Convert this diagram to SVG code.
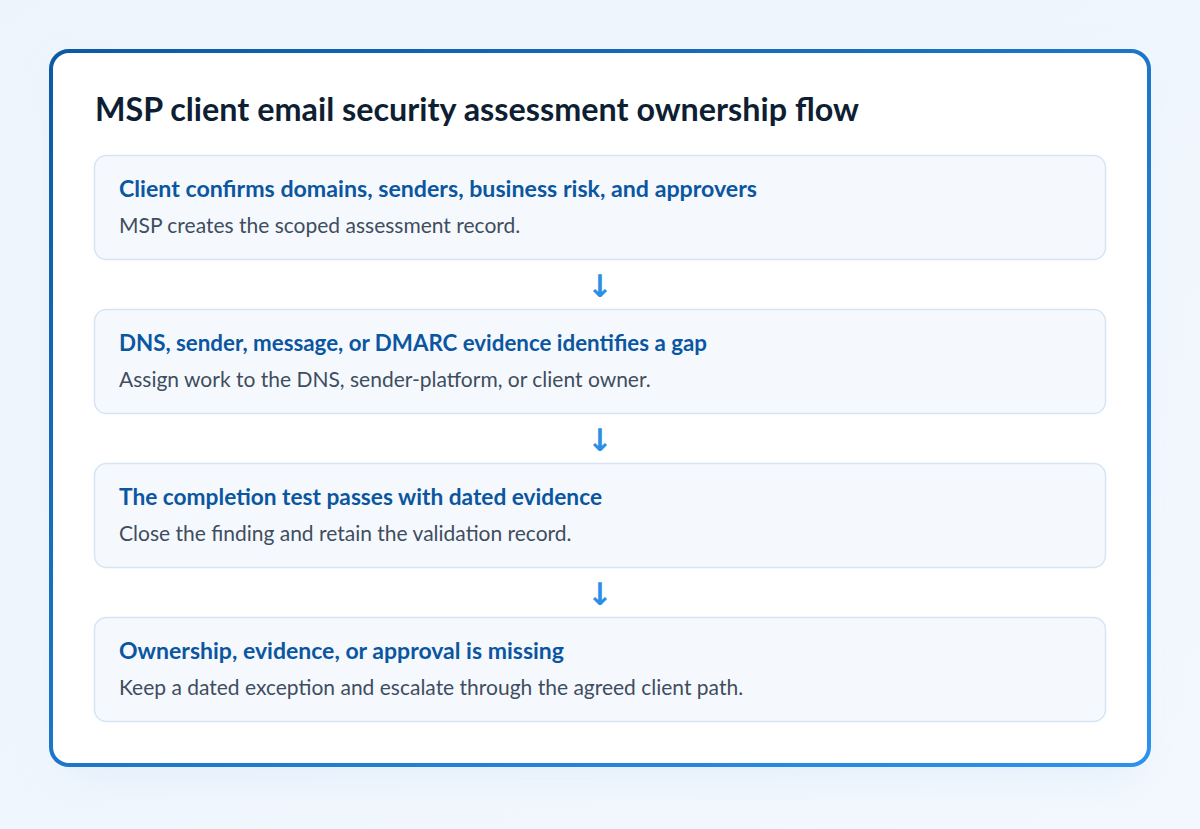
<svg xmlns="http://www.w3.org/2000/svg" width="1200" height="829" viewBox="0 0 1200 829">
<defs>
<linearGradient id="bg" x1="0" y1="0" x2="1" y2="1">
<stop offset="0" stop-color="#edf4fc"/>
<stop offset="1" stop-color="#f3f8fe"/>
</linearGradient>
<linearGradient id="border" x1="0" y1="0" x2="1" y2="1">
<stop offset="0" stop-color="#0c5aa6"/>
<stop offset="1" stop-color="#2b92ee"/>
</linearGradient>
<filter id="glow" x="-10%" y="-10%" width="120%" height="130%">
<feGaussianBlur stdDeviation="18"/>
</filter>
<style>
.step{fill:#f5f9fe;stroke:#d6e5f5;stroke-width:1.5}
.h{font-family:Lato,"Noto Sans",sans-serif;font-weight:700;font-size:23px;fill:#0b56a0}
.s{font-family:Lato,"Noto Sans",sans-serif;font-size:21px;fill:#3f4d5e}
.arr{font-family:"DejaVu Sans",sans-serif;font-weight:700;font-size:31px;fill:#2d8ee6;text-anchor:middle}
</style>
</defs>
<rect width="1200" height="829" fill="url(#bg)"/>
<rect x="60" y="70" width="1080" height="710" rx="20" fill="#dcebfa" opacity="0.6" filter="url(#glow)"/>
<rect x="51" y="51" width="1098" height="714" rx="18" fill="#ffffff" stroke="url(#border)" stroke-width="4"/>
<text x="95" y="121" font-family="Lato,'Noto Sans',sans-serif" font-weight="700" font-size="32" fill="#0f1f33" textLength="764" lengthAdjust="spacingAndGlyphs">MSP client email security assessment ownership flow</text>
<g id="step1">
<rect class="step" x="94.5" y="155.5" width="1011" height="104" rx="12"/>
<text class="h" x="119" y="197" textLength="638" lengthAdjust="spacingAndGlyphs">Client confirms domains, senders, business risk, and approvers</text>
<text class="s" x="119" y="233">MSP creates the scoped assessment record.</text>
</g>
<g id="step2">
<rect class="step" x="94.5" y="309.5" width="1011" height="104" rx="12"/>
<text class="h" x="119" y="351" textLength="588" lengthAdjust="spacingAndGlyphs">DNS, sender, message, or DMARC evidence identifies a gap</text>
<text class="s" x="119" y="387">Assign work to the DNS, sender-platform, or client owner.</text>
</g>
<g id="step3">
<rect class="step" x="94.5" y="463.5" width="1011" height="104" rx="12"/>
<text class="h" x="119" y="505" textLength="483" lengthAdjust="spacingAndGlyphs">The completion test passes with dated evidence</text>
<text class="s" x="119" y="541">Close the finding and retain the validation record.</text>
</g>
<g id="step4">
<rect class="step" x="94.5" y="617.5" width="1011" height="104" rx="12"/>
<text class="h" x="119" y="659" textLength="445" lengthAdjust="spacingAndGlyphs">Ownership, evidence, or approval is missing</text>
<text class="s" x="119" y="695">Keep a dated exception and escalate through the agreed client path.</text>
</g>
<g id="connectors">
<text class="arr" x="600" y="297">↓</text>
<text class="arr" x="600" y="451">↓</text>
<text class="arr" x="600" y="605">↓</text>
</g>
</svg>
